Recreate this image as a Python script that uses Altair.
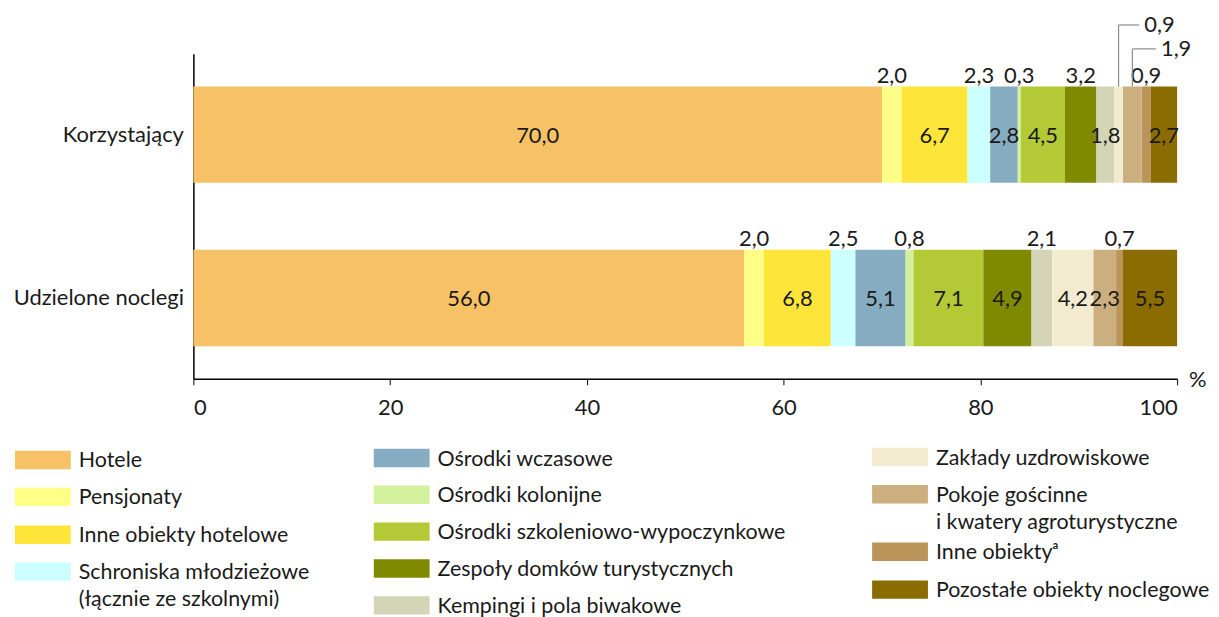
import altair as alt
import pandas as pd

FONT = "Lato"
FS = 22
LFS = 21.5
TXT = "#1a1a1a"

rows = ["Korzystający", "Udzielone noclegi"]
categories = [
    "Hotele", "Pensjonaty", "Inne obiekty hotelowe",
    "Schroniska młodzieżowe (łącznie ze szkolnymi)", "Ośrodki wczasowe",
    "Ośrodki kolonijne", "Ośrodki szkoleniowo-wypoczynkowe",
    "Zespoły domków turystycznych", "Kempingi i pola biwakowe",
    "Zakłady uzdrowiskowe", "Pokoje gościnne i kwatery agroturystyczne",
    "Inne obiekty", "Pozostałe obiekty noclegowe",
]
korzystajacy = [70.0, 2.0, 6.7, 2.3, 2.8, 0.3, 4.5, 3.2, 1.8, 0.9, 1.9, 0.9, 2.7]
udzielone = [56.0, 2.0, 6.8, 2.5, 5.1, 0.8, 7.1, 4.9, 2.1, 4.2, 2.3, 0.7, 5.5]
colors = ["#F7C266", "#FFFF88", "#FFE539", "#CCFFFF", "#86ACC1", "#D3F09C",
          "#B3C935", "#808A00", "#D4D5B7", "#F2EBD0", "#CCAF7F", "#BA9458", "#8B6C00"]
place_k = ["in", "above", "in", "above", "in", "above", "in", "above", "in",
           "lead1", "lead2", "above", "in"]
place_u = ["in", "above", "in", "above", "in", "above", "in", "in", "above",
           "in", "in", "above", "in"]

# legend layout
legend_labels = [
    ["Hotele"], ["Pensjonaty"], ["Inne obiekty hotelowe"],
    ["Schroniska młodzieżowe", "(łącznie ze szkolnymi)"], ["Ośrodki wczasowe"],
    ["Ośrodki kolonijne"], ["Ośrodki szkoleniowo-wypoczynkowe"],
    ["Zespoły domków turystycznych"], ["Kempingi i pola biwakowe"],
    ["Zakłady uzdrowiskowe"], ["Pokoje gościnne", "i kwatery agroturystyczne"],
    ["Inne obiektyᵃ"], ["Pozostałe obiekty noclegowe"],
]
legend_col = [0, 0, 0, 0, 1, 1, 1, 1, 1, 2, 2, 2, 2]
legend_row_y = [461.5, 498.5, 536.5, 573.5, 459.5, 496.3, 533.3, 570.3, 607.3,
                458.5, 495.8, 553.5, 591.5]
legend_col_x = [12, 372, 872]

# leader layout (pixel level above plot top, horizontal length in % units)
leader_level = {"lead1": -29, "lead2": -5}
leader_len = {"lead1": 2.1, "lead2": 2.4}

W, H = 987, 326

recs = []
for r, vals, places in [(rows[0], korzystajacy, place_k), (rows[1], udzielone, place_u)]:
    s = 0.0
    for i, (c, v, p) in enumerate(zip(categories, vals, places)):
        recs.append(dict(row=r, cat=c, order=i, value=v, start=s, end=s + v,
                         mid=s + v / 2, label=f"{v:.1f}".replace(".", ","), place=p,
                         lx=s + v / 2 + leader_len.get(p, 0)))
        s += v
df = pd.DataFrame(recs)

base = alt.Chart(df)
yenc = alt.Y("row:N", sort=rows, title=None,
             scale=alt.Scale(paddingInner=0.41, paddingOuter=0.2),
             axis=alt.Axis(ticks=False, labelPadding=10, domainColor="black",
                           domainWidth=1.5, labelFont=FONT, labelFontSize=FS,
                           labelColor=TXT))
xenc = alt.X("start:Q", title=None, scale=alt.Scale(domain=[0, 100], nice=False),
             axis=alt.Axis(values=[0, 20, 40, 60, 80, 100], grid=False, tickSize=6,
                           tickColor="black", domainColor="black", domainWidth=1.5,
                           labelPadding=13, labelFont=FONT, labelFontSize=FS,
                           labelColor=TXT))

bars = base.mark_bar().encode(
    x=xenc, x2="end:Q", y=yenc,
    color=alt.Color("cat:N", scale=alt.Scale(domain=categories, range=colors), legend=None),
)
t_in = base.transform_filter(alt.datum.place == "in").mark_text(
    font=FONT, fontSize=FS, color=TXT, baseline="middle", dy=1
).encode(x="mid:Q", y=alt.Y("row:N", sort=rows), text="label:N")
t_above = base.transform_filter(alt.datum.place == "above").mark_text(
    font=FONT, fontSize=FS, color=TXT, baseline="alphabetic", dy=-4
).encode(x="mid:Q", y=alt.Y("row:N", sort=rows, bandPosition=0), text="label:N")

layers = [bars, t_in, t_above]
for key, lvl in leader_level.items():
    sub = base.transform_filter(alt.datum.place == key)
    layers.append(sub.mark_rule(color="#8c8c8c", strokeWidth=1.2).encode(
        x="mid:Q", y=alt.Y("row:N", sort=rows, bandPosition=0), y2=alt.value(lvl)))
    layers.append(sub.mark_rule(color="#8c8c8c", strokeWidth=1.2).encode(
        x="mid:Q", x2="lx:Q", y=alt.value(lvl)))
    layers.append(sub.mark_text(font=FONT, fontSize=FS, color=TXT, align="left",
                                baseline="middle", dx=5).encode(
        x="lx:Q", y=alt.value(lvl), text="label:N"))

pct = alt.Chart(pd.DataFrame({"t": ["%"]})).mark_text(
    font=FONT, fontSize=FS, color=TXT, align="left", baseline="middle", dx=12, dy=1
).encode(x=alt.datum(100), y=alt.value(H), text="t:N")
layers.append(pct)

top = alt.layer(*layers).properties(width=W, height=H)

# legend chart
LY0, LH = 440, 180
lrecs, trecs = [], []
for i, c in enumerate(categories):
    cx = legend_col_x[legend_col[i]]
    cy = legend_row_y[i]
    lrecs.append(dict(cat=c, x0=cx, x1=cx + 56, y0=cy - 9.2, y1=cy + 9.2))
    for j, line in enumerate(legend_labels[i]):
        trecs.append(dict(x=cx + 64, y=cy + 1.5 + j * 27, t=line))
ldf = pd.DataFrame(lrecs)
tdf = pd.DataFrame(trecs)
lx = alt.Scale(domain=[191, 191 + W], range=[0, W], nice=False, zero=False)
ly = alt.Scale(domain=[LY0, LY0 + LH], range=[0, LH], nice=False, zero=False)
sw = alt.Chart(ldf).mark_rect().encode(
    x=alt.X("x0:Q", scale=lx, axis=None), x2="x1:Q",
    y=alt.Y("y0:Q", scale=ly, axis=None), y2="y1:Q",
    color=alt.Color("cat:N", scale=alt.Scale(domain=categories, range=colors), legend=None),
)
lt = alt.Chart(tdf).mark_text(font=FONT, fontSize=LFS, color=TXT, align="left",
                              baseline="middle").encode(
    x=alt.X("x:Q", scale=lx, axis=None), y=alt.Y("y:Q", scale=ly, axis=None), text="t:N")
legend = alt.layer(sw, lt).properties(width=W, height=LH)

chart = alt.vconcat(top, legend, spacing=20).properties(
    padding={"left": 5, "top": 5, "right": 0, "bottom": 5},
    background="white",
).configure_view(strokeWidth=0, strokeOpacity=0)
chart.save("out.html", embed_options={"renderer": "svg", "actions": False})
